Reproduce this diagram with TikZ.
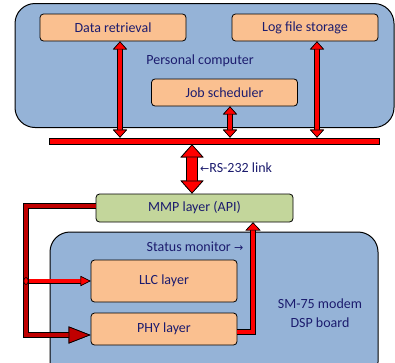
\documentclass[tikz,border=0pt]{standalone}
\usepackage{fontspec}
\setmainfont{Carlito}
\newfontfamily\arrowfont{DejaVu Sans}
\usetikzlibrary{arrows.meta,shapes.geometric,positioning,calc}
\definecolor{panelblue}{HTML}{95B3D7}
\definecolor{unitorange}{HTML}{FAC090}
\definecolor{apigreen}{HTML}{C3D69B}
\definecolor{navytext}{RGB}{28,28,110}
\definecolor{darkred}{HTML}{C00000}
\tikzset{
  linktip/.tip={Triangle[length=8pt,width=14pt,color=black,fill=red,line width=0.6pt]},
  bigtip/.tip={Triangle[length=13pt,width=23pt,color=black,fill=red,line width=0.7pt]},
  feedtip/.tip={Triangle[length=22pt,width=17pt,color=black,fill=darkred,line width=0.7pt]},
  branchtip/.tip={Triangle[length=10pt,width=10pt,color=black,fill=red,line width=0.6pt]},
  uptip/.tip={Triangle[length=8pt,width=15pt,color=black,fill=red,line width=0.6pt]},
  panel/.style={draw=black, line width=1pt, fill=panelblue, rounded corners=20pt},
  unit/.style={draw=black, line width=0.8pt, fill=unitorange, rounded corners=3.5pt,
    text=navytext, font=\fontsize{14}{16}\selectfont, inner sep=0pt},
  plaintext/.style={text=navytext, font=\fontsize{14}{19}\selectfont, inner sep=0pt},
  busbar/.style={draw=black, line width=0.7pt, fill=red, inner sep=0pt},
  linkarrow/.style={red, line width=3.6pt, {linktip}-{linktip},
    preaction={draw=black, line width=5.2pt, arrows={linktip-linktip}}},
  bigarrow/.style={red, line width=10pt, {bigtip}-{bigtip},
    preaction={draw=black, line width=11.4pt, arrows={bigtip-bigtip}}},
  feedarrow/.style={darkred, line width=4pt, -{feedtip},
    preaction={draw=black, line width=5.4pt, arrows={-feedtip}}},
  brancharrow/.style={red, line width=3.6pt, -{branchtip},
    preaction={draw=black, line width=5pt, arrows={-branchtip}}},
  uparrow/.style={red, line width=4pt, -{uptip},
    preaction={draw=black, line width=5.4pt, arrows={-uptip}}}
}
\begin{document}
\begin{tikzpicture}[x=1pt,y=-1pt]
\clip (0,0) rectangle (395,362);
\node[panel, minimum width=379pt, minimum height=124pt] (pc) at (204.5,65.5) {};
\node[panel, minimum width=328pt, minimum height=150pt] (dsp) at (214,307) {};
\node[unit, minimum width=146pt, minimum height=27pt] (dr) at (113,27.5) {Data retrieval};
\node[unit, minimum width=146pt, minimum height=27pt] (log) at (305,27.5) {Log file storage};
\node[unit, minimum width=146pt, minimum height=27pt] (job) at (224.5,92.5) {Job scheduler};
\node[plaintext] (pclabel) at (200,61) {Personal computer};
\node[busbar, minimum width=330pt, minimum height=6pt] (bus) at (214,141) {};
\node[unit, fill=apigreen, minimum width=197pt, minimum height=28pt] (mmp) at (194.5,208) {MMP layer (API)};
\node[unit, minimum width=146pt, minimum height=42pt] (llc) at (164,281) {LLC layer};
\node[unit, minimum width=146pt, minimum height=32pt] (phy) at (164,329) {PHY layer};
\node[plaintext, anchor=west] (rslabel) at (200,168) {{\arrowfont\fontsize{11}{11}\selectfont ←}RS-232 link};
\node[plaintext] (statuslabel) at (195,247) {Status monitor {\arrowfont\fontsize{11}{11}\selectfont →}};
\node[plaintext, align=center] (dsplabel) at (320,313) {SM-75 modem\\DSP board};

\coordinate (drport) at ([xshift=7pt]dr.south);
\coordinate (jobport) at ([xshift=5.5pt]job.south);
\coordinate (logport) at ([xshift=12pt]log.south);
\draw[linkarrow] (drport) -- (drport |- bus.north);
\draw[linkarrow] (jobport) -- (jobport |- bus.north);
\draw[linkarrow] (logport) -- (logport |- bus.north);
\coordinate (busport) at ([xshift=-2.5pt]mmp.north);
\draw[bigarrow] (busport |- bus.south) -- (busport);

\coordinate (feedtop) at (26,206);
\coordinate (phyin) at ([yshift=-6pt]phy.west);
\draw[feedarrow] (mmp.west |- feedtop) -- (feedtop) -- (feedtop |- phyin) -- (phyin);
\node[ellipse, draw=black, line width=0.6pt, fill=red, minimum width=4.5pt, minimum height=7pt, inner sep=0pt] (junction) at (26,281) {};
\draw[brancharrow] (junction.east) -- (llc.west);
\coordinate (phyport) at ([yshift=-3pt]phy.east);
\coordinate (upcorner) at (253,0);
\draw[uparrow] (phyport) -- (phyport -| upcorner) -- (upcorner |- mmp.south);
\end{tikzpicture}
\end{document}
